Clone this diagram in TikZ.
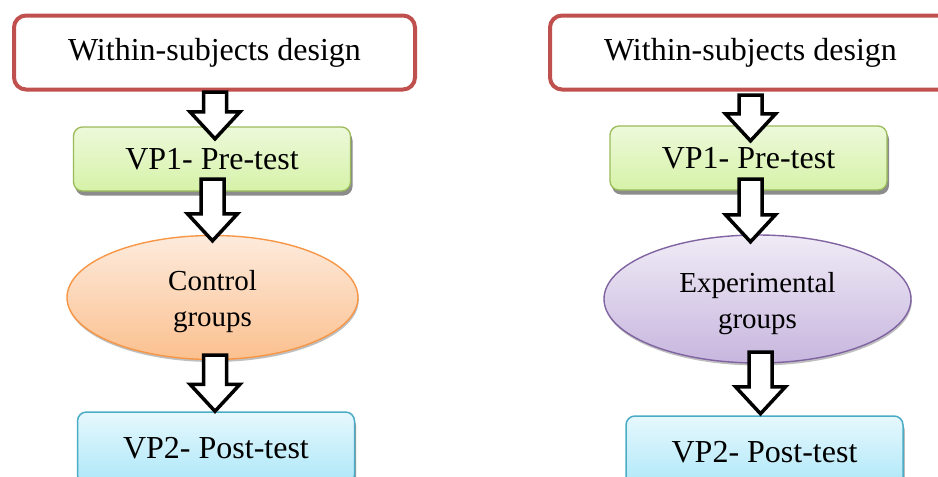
\documentclass[tikz,border=0pt]{standalone}
\usepackage{fontspec}
\setmainfont{Liberation Serif}
\usetikzlibrary{shapes.geometric,shadows,calc}
\definecolor{redb}{HTML}{C0504D}
\definecolor{greenb}{HTML}{9BBB59}
\definecolor{greentop}{HTML}{EDF9DA}
\definecolor{greenbot}{HTML}{D6F2A8}
\definecolor{blueb}{HTML}{4BACC6}
\definecolor{bluetop}{HTML}{E6F8FD}
\definecolor{bluebot}{HTML}{ADE7F8}
\definecolor{orangeb}{HTML}{F79646}
\definecolor{orangetop}{HTML}{FDEBDD}
\definecolor{orangebot}{HTML}{FBC08F}
\definecolor{purpleb}{HTML}{8064A2}
\definecolor{purpletop}{HTML}{F0EBF6}
\definecolor{purplebot}{HTML}{C7B6DE}
\tikzset{
  titlebox/.style={draw=redb, line width=4pt, rounded corners=12pt, fill=white,
    minimum width=401pt, minimum height=74pt, inner sep=0pt,
    font=\fontsize{32}{38}\selectfont},
  prebox/.style={draw=greenb, line width=1.3pt, rounded corners=9pt,
    top color=greentop, bottom color=greenbot,
    drop shadow={shadow xshift=2pt, shadow yshift=-4.5pt, fill=black!45, opacity=1},
    minimum width=277pt, minimum height=64pt, inner sep=0pt,
    font=\fontsize{32}{38}\selectfont},
  postbox/.style={draw=blueb, line width=1.5pt, rounded corners=9pt,
    top color=bluetop, bottom color=bluebot,
    drop shadow={shadow xshift=1.5pt, shadow yshift=-4.5pt, fill=black!40, opacity=1},
    minimum width=277pt, minimum height=72pt, inner sep=0pt,
    font=\fontsize{32}{38}\selectfont},
  groupell/.style={ellipse, line width=1.4pt, inner sep=0pt, align=center,
    drop shadow={shadow xshift=0.8pt, shadow yshift=-2.5pt, fill=black!25, opacity=1},
    font=\fontsize{29}{36}\selectfont},
  barrow/.style={draw=black, fill=white, line width=3.5pt, miter limit=10, line join=miter},
}
\newcommand{\blockarrow}[2]{%
  \draw[barrow] let \p1=(#1), \p2=(#2) in
    (\x1-11.5pt,\y1) -- (\x1+11.5pt,\y1) -- (\x1+11.5pt,\y2+27pt) --
    (\x1+25pt,\y2+27pt) -- (\x1,\y2) -- (\x1-25pt,\y2+27pt) --
    (\x1-11.5pt,\y2+27pt) -- cycle;}
\newcommand{\ellipsetext}[2]{\raisebox{-2pt}[\dimexpr\height+2pt\relax][\dimexpr\depth-2pt\relax]{\begin{tabular}{@{}c@{}}#1\\#2\end{tabular}}}
\begin{document}
\begin{tikzpicture}[x=1pt,y=-1pt]
  \useasboundingbox (0,0) rectangle (938,477);
  \clip (0,0) rectangle (938,477);
  % left column
  \node[titlebox] (w1) at (214.5,52.5) {Within-subjects design};
  \node[prebox] (p1) at (212,159) {VP1- Pre-test};
  \node[groupell, draw=orangeb, top color=orangetop, bottom color=orangebot,
        minimum width=291pt, minimum height=124pt] (e1) at (212.5,297.5) {\ellipsetext{Control}{groups}};
  \node[postbox] (q1) at (216,448) {VP2- Post-test};
  % right column
  \node[titlebox] (w2) at (750.5,52.5) {Within-subjects design};
  \node[prebox] (p2) at (748.5,158) {VP1- Pre-test};
  \node[groupell, draw=purpleb, top color=purpletop, bottom color=purplebot,
        minimum width=307pt, minimum height=128pt] (e2) at (757.5,299) {\ellipsetext{Experimental}{groups}};
  \node[postbox] (q2) at (764.5,452) {VP2- Post-test};
  % arrows left
  \blockarrow{$(w1.south)+(0.5,0.5)$}{$(p1.north)+(3,12.5)$}
  \blockarrow{$(p1.south)+(0.5,-12.5)$}{$(e1.north)+(0.5,6)$}
  \blockarrow{$(e1.south)+(2.5,-5)$}{$(q1.north)+(-1,0)$}
  % arrows right
  \blockarrow{$(w2.south)+(0,3.5)$}{$(p2.north)+(2,15.5)$}
  \blockarrow{$(p2.south)+(2,-11.5)$}{$(e2.north)+(-7,7.5)$}
  \blockarrow{$(e2.south)+(3,-11.5)$}{$(q2.north)+(-4,-1.5)$}
\end{tikzpicture}
\end{document}
